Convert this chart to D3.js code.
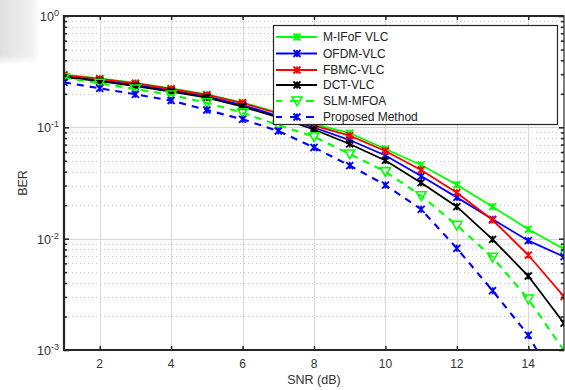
<!DOCTYPE html>
<html>
<head>
<meta charset="utf-8">
<script src="https://cdn.jsdelivr.net/npm/d3@7"></script>
<style>
  html, body { margin: 0; padding: 0; background: #fff; }
  svg { display: block; font-family: "Liberation Sans", Arial, Helvetica, sans-serif; }
</style>
</head>
<body>
<svg id="chart" width="565" height="390"></svg>
<script>
// SNR points (dB)
const snr = [1, 2, 3, 4, 5, 6, 7, 8, 9, 10, 11, 12, 13, 14, 15];

// BER per scheme
const berMIFoF    = [0.298, 0.2746, 0.2501, 0.2233, 0.1972, 0.1671, 0.1359, 0.1071, 0.0889, 0.0639, 0.0459, 0.0305, 0.01937, 0.01214, 0.00807];
const berOFDM     = [0.2861, 0.2634, 0.2400, 0.2142, 0.1891, 0.1587, 0.1264, 0.0997, 0.0769, 0.0558, 0.0365, 0.0235, 0.01492, 0.00959, 0.00689];
const berFBMC     = [0.295, 0.272, 0.2486, 0.2210, 0.1952, 0.1654, 0.1331, 0.1038, 0.0841, 0.0613, 0.0414, 0.02587, 0.01471, 0.00713, 0.00301];
const berDCT      = [0.2832, 0.2607, 0.2350, 0.2098, 0.1853, 0.1532, 0.1226, 0.0956, 0.0709, 0.0504, 0.0318, 0.01937, 0.00987, 0.00462, 0.00174];
const berSLM      = [0.2791, 0.2486, 0.2210, 0.1952, 0.1664, 0.1353, 0.1049, 0.0824, 0.0576, 0.0400, 0.0243, 0.01318, 0.00680, 0.00287, 0.00099];
const berProposed = [0.2539, 0.2242, 0.1980, 0.1742, 0.1431, 0.1181, 0.0927, 0.0659, 0.0454, 0.0303, 0.01835, 0.00819, 0.00341, 0.00136, 0.00037];

const seriesNames = ["M-IFoF VLC", "OFDM-VLC", "FBMC-VLC", "DCT-VLC", "SLM-MFOA", "Proposed Method"];

// tick labels
const xTicks = [2, 4, 6, 8, 10, 12, 14];
const yExponents = [0, -1, -2, -3];

(function () {
const series = [
  { name: seriesNames[0], values: berMIFoF,    color: "#00ff00", dash: null,  marker: "star" },
  { name: seriesNames[1], values: berOFDM,     color: "#0000ff", dash: null,  marker: "star" },
  { name: seriesNames[2], values: berFBMC,     color: "#ff0000", dash: null,  marker: "star" },
  { name: seriesNames[3], values: berDCT,      color: "#000000", dash: null,  marker: "star" },
  { name: seriesNames[4], values: berSLM,      color: "#00ff00", dash: "7,6", marker: "tri" },
  { name: seriesNames[5], values: berProposed, color: "#0000ff", dash: "7,6", marker: "star" }
];

const svg = d3.select("#chart");
const pL = 64, pR = 564, pT = 16, pB = 350;

const x = d3.scaleLinear().domain([1, 15]).range([pL, pR]);
const y = d3.scaleLog().domain([1e-3, 1]).range([pB, pT]);

const defs = svg.append("defs");
// soft grey patch in the top-left corner of the page
const grad = defs.append("linearGradient").attr("id", "cornerGrad").attr("x1", 0).attr("x2", 1).attr("y1", 0).attr("y2", 0);
grad.append("stop").attr("offset", "0%").attr("stop-color", "#dadada");
grad.append("stop").attr("offset", "100%").attr("stop-color", "#f3f3f3");
defs.append("filter").attr("id", "soft").append("feGaussianBlur").attr("stdDeviation", 3);
svg.append("rect").attr("x", -10).attr("y", -10).attr("width", 46).attr("height", 70)
  .attr("fill", "url(#cornerGrad)").attr("filter", "url(#soft)");

defs.append("clipPath").attr("id", "plotClip")
  .append("rect").attr("x", pL).attr("y", pT).attr("width", pR - pL).attr("height", pB - pT);

// minor horizontal grid (dotted)
const minorVals = [];
for (let e = -3; e < 0; e++) for (let m = 2; m <= 9; m++) minorVals.push(m * Math.pow(10, e));
svg.append("g").selectAll("line").data(minorVals).join("line")
  .attr("x1", pL).attr("x2", pR)
  .attr("y1", d => Math.round(y(d)) + 0.5).attr("y2", d => Math.round(y(d)) + 0.5)
  .attr("stroke", "#c8c8c8").attr("stroke-width", 1).attr("stroke-dasharray", "1,3");

// major grid
svg.append("g").selectAll("line").data(yExponents.slice(1, 3)).join("line")
  .attr("x1", pL).attr("x2", pR)
  .attr("y1", d => Math.round(y(Math.pow(10, d))) + 0.5).attr("y2", d => Math.round(y(Math.pow(10, d))) + 0.5)
  .attr("stroke", "#d8d8d8").attr("stroke-width", 1);
svg.append("g").selectAll("line").data(xTicks).join("line")
  .attr("x1", d => Math.round(x(d)) + 0.5).attr("x2", d => Math.round(x(d)) + 0.5)
  .attr("y1", pT).attr("y2", pB)
  .attr("stroke", "#d8d8d8").attr("stroke-width", 1);

// data lines and markers
const plot = svg.append("g").attr("clip-path", "url(#plotClip)");
const line = d3.line().x((d, i) => x(snr[i])).y(d => y(d));

function drawMarker(g, type, color, cx, cy) {
  if (type === "tri") {
    const s = 5;
    g.append("path")
      .attr("d", `M${cx - s},${cy - s * 0.8}L${cx + s},${cy - s * 0.8}L${cx},${cy + s * 0.95}Z`)
      .attr("fill", "none").attr("stroke", color).attr("stroke-width", 1.6);
  } else {
    const s = 3.5;
    g.append("path")
      .attr("d", `M${cx - s},${cy - s}L${cx + s},${cy + s}M${cx - s},${cy + s}L${cx + s},${cy - s}M${cx},${cy - s}L${cx},${cy + s}`)
      .attr("fill", "none").attr("stroke", color).attr("stroke-width", 1.8);
  }
}

series.forEach(s => {
  plot.append("path").datum(s.values)
    .attr("d", line).attr("fill", "none")
    .attr("stroke", s.color).attr("stroke-width", s.dash ? 2.1 : 1.8)
    .attr("stroke-dasharray", s.dash);
  const mg = plot.append("g");
  s.values.forEach((v, i) => {
    if (v >= 1e-3) drawMarker(mg, s.marker, s.color, x(snr[i]), y(v));
  });
});

// axes box
const axisColor = "#262626";
svg.append("rect").attr("x", pL).attr("y", pT).attr("width", pR - pL).attr("height", pB - pT)
  .attr("fill", "none").attr("stroke", axisColor).attr("stroke-width", 1.2);
svg.append("line").attr("x1", pL).attr("x2", pL).attr("y1", pT - 1).attr("y2", pB + 1)
  .attr("stroke", axisColor).attr("stroke-width", 2.2);
svg.append("line").attr("x1", pL - 1).attr("x2", pR).attr("y1", pB).attr("y2", pB)
  .attr("stroke", axisColor).attr("stroke-width", 2.2);
svg.append("line").attr("x1", pL).attr("x2", pR).attr("y1", pT).attr("y2", pT)
  .attr("stroke", axisColor).attr("stroke-width", 1.8);

// inward ticks via d3 axes
svg.append("g").attr("transform", `translate(0,${pB})`)
  .call(d3.axisBottom(x).tickValues(xTicks).tickSize(-4).tickFormat(""))
  .call(g => g.select(".domain").remove())
  .call(g => g.selectAll("line").attr("stroke", axisColor).attr("stroke-width", 1.5));
svg.append("g").attr("transform", `translate(0,${pT})`)
  .call(d3.axisTop(x).tickValues(xTicks).tickSize(-4).tickFormat(""))
  .call(g => g.select(".domain").remove())
  .call(g => g.selectAll("line").attr("stroke", axisColor).attr("stroke-width", 1.5));

const yMajorVals = yExponents.map(e => Math.pow(10, e));
[[d3.axisLeft, pL], [d3.axisRight, pR]].forEach(([fn, pos]) => {
  svg.append("g").attr("transform", `translate(${pos},0)`)
    .call(fn(y).tickValues(yMajorVals).tickSize(-5).tickFormat(""))
    .call(g => g.select(".domain").remove())
    .call(g => g.selectAll("line").attr("stroke", axisColor).attr("stroke-width", 1.6));
  svg.append("g").attr("transform", `translate(${pos},0)`)
    .call(fn(y).tickValues(minorVals).tickSize(-3).tickFormat(""))
    .call(g => g.select(".domain").remove())
    .call(g => g.selectAll("line").attr("stroke", axisColor).attr("stroke-width", 1.6));
});

// tick labels
const labelColor = "#333";
svg.append("g").selectAll("text").data(xTicks).join("text")
  .attr("x", d => x(d)).attr("y", pB + 18)
  .attr("text-anchor", "middle").attr("font-size", 12).attr("fill", labelColor)
  .text(d => d);

const yl = svg.append("g").selectAll("text").data(yExponents).join("text")
  .attr("x", pL - 5).attr("y", d => y(Math.pow(10, d)) + 5)
  .attr("text-anchor", "end").attr("font-size", 12.5).attr("fill", labelColor);
yl.append("tspan").text("10");
yl.append("tspan").attr("dy", -5).attr("font-size", 9).text(d => d);

// axis titles
svg.append("text").attr("x", x(8)).attr("y", 384).attr("text-anchor", "middle")
  .attr("font-size", 12.5).attr("fill", labelColor).text("SNR (dB)");
svg.append("text").attr("transform", `translate(27,${(pT + pB) / 2}) rotate(-90)`)
  .attr("text-anchor", "middle").attr("font-size", 12.5).attr("fill", labelColor).text("BER");

// legend
const lg = svg.append("g");
const lx = 273, ly = 25, lw = 284, lh = 99;
lg.append("rect").attr("x", lx + 0.5).attr("y", ly + 0.5).attr("width", lw).attr("height", lh)
  .attr("fill", "#fff").attr("stroke", axisColor).attr("stroke-width", 1.2);
const rowY = [37, 53.5, 70, 85, 101, 117];
series.forEach((s, i) => {
  const ry = rowY[i];
  lg.append("line").attr("x1", 276).attr("x2", 317).attr("y1", ry).attr("y2", ry)
    .attr("stroke", s.color).attr("stroke-width", s.dash ? 2.1 : 1.8).attr("stroke-dasharray", s.dash ? "8,8" : null)
    .attr("stroke-dashoffset", s.dash ? 2 : 0);
  drawMarker(lg, s.marker, s.color, 297, ry);
  lg.append("text").attr("x", 323).attr("y", ry + 4).attr("font-size", 12).attr("fill", "#222")
    .text(s.name);
});
})();
</script>
</body>
</html>
